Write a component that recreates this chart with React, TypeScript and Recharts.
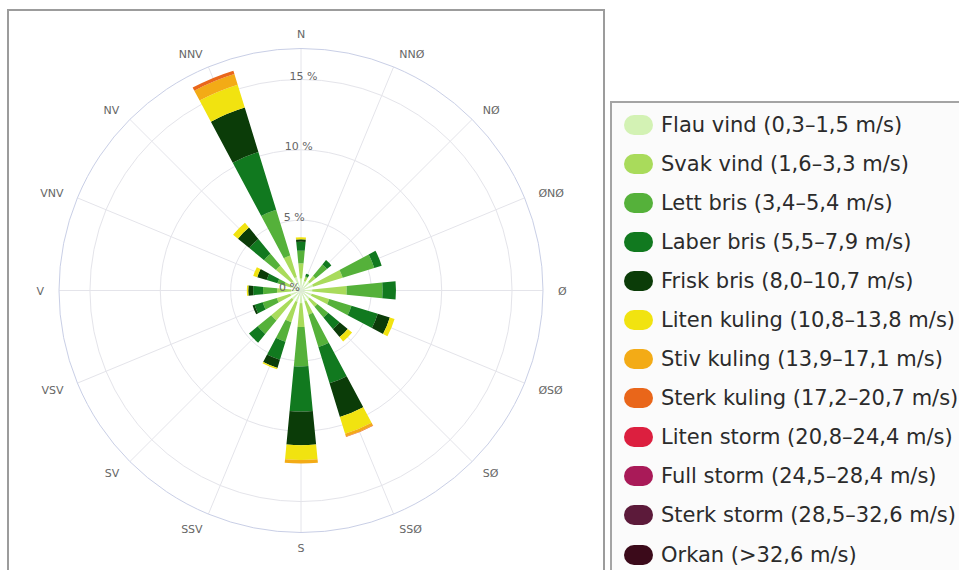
import React from 'react';
import { RadialBarChart, RadialBar, PolarGrid, PolarAngleAxis, PolarRadiusAxis } from 'recharts';

// Compass directions (clockwise from north)
const directions = ['N', 'NNØ', 'NØ', 'ØNØ', 'Ø', 'ØSØ', 'SØ', 'SSØ', 'S', 'SSV', 'SV', 'VSV', 'V', 'VNV', 'NV', 'NNV'];

// Frequency (%) per direction for each wind class
const flauVind = [0.85, 0.7, 0.8, 0.9, 0.8, 0.8, 0.8, 0.8, 0.9, 0.85, 0.85, 0.8, 0.7, 0.75, 0.85, 1.0];
const svakVind = [1.08, 0.3, 0.55, 2.2, 2.45, 1.3, 0.7, 1.0, 1.7, 1.5, 1.9, 1.0, 1.0, 0.5, 1.45, 1.6];
const lettBris = [0.9, 0.05, 1.05, 2.35, 2.55, 1.65, 1.0, 2.4, 2.8, 1.45, 1.25, 1.05, 1.0, 0.5, 1.1, 3.4];
const laberBris = [0.64, 0.2, 0.4, 0.55, 0.95, 1.95, 1.05, 2.7, 3.2, 1.35, 0.8, 0.6, 0.7, 0.8, 1.35, 4.3];
const friskBris = [0.17, 0, 0, 0, 0, 0.9, 0.75, 2.5, 2.4, 0.6, 0, 0.15, 0.35, 0.7, 1.05, 3.3];
const litenKuling = [0.14, 0, 0, 0, 0, 0.35, 0.4, 1.25, 1.05, 0.1, 0, 0, 0.1, 0.3, 0.45, 1.7];
const stivKuling = [0, 0, 0, 0, 0, 0, 0, 0.2, 0.25, 0, 0, 0, 0, 0, 0, 0.8];
const sterkKuling = [0, 0, 0, 0, 0, 0, 0, 0.05, 0, 0, 0, 0, 0, 0, 0, 0.25];
const litenStorm = [0, 0, 0, 0, 0, 0, 0, 0, 0, 0, 0, 0, 0, 0, 0, 0];
const fullStorm = [0, 0, 0, 0, 0, 0, 0, 0, 0, 0, 0, 0, 0, 0, 0, 0];
const sterkStorm = [0, 0, 0, 0, 0, 0, 0, 0, 0, 0, 0, 0, 0, 0, 0, 0];
const orkan = [0, 0, 0, 0, 0, 0, 0, 0, 0, 0, 0, 0, 0, 0, 0, 0];

const seriesNames = [
  'Flau vind (0,3–1,5 m/s)',
  'Svak vind (1,6–3,3 m/s)',
  'Lett bris (3,4–5,4 m/s)',
  'Laber bris (5,5–7,9 m/s)',
  'Frisk bris (8,0–10,7 m/s)',
  'Liten kuling (10,8–13,8 m/s)',
  'Stiv kuling (13,9–17,1 m/s)',
  'Sterk kuling (17,2–20,7 m/s)',
  'Liten storm (20,8–24,4 m/s)',
  'Full storm (24,5–28,4 m/s)',
  'Sterk storm (28,5–32,6 m/s)',
  'Orkan (>32,6 m/s)',
];
const seriesValues = [flauVind, svakVind, lettBris, laberBris, friskBris, litenKuling, stivKuling, sterkKuling, litenStorm, fullStorm, sterkStorm, orkan];
const seriesColors = ['#d3f2b4', '#a9db5b', '#55b13a', '#11791f', '#0b3c08', '#f1e310', '#f3ab16', '#e9661a', '#dc1f3f', '#a91a58', '#5c1a3a', '#3b0a1a'];

const radiusTicks = [0, 5, 10, 15];
const RADIUS_MAX = 17.2;

const data = directions.map((dir, i) => {
  const row: Record<string, number | string> = { dir, idx: i };
  seriesValues.forEach((vals, s) => {
    row['s' + s] = vals[i];
  });
  return row;
});

const CX = 301;
const CY = 290.5;
const OUTER = 242;
const FONT = '"DejaVu Sans", "Lucida Grande", sans-serif';

const AngleTick = (props: any) => {
  const { payload } = props;
  const label = directions[Math.round(payload.value)] ?? '';
  const rad = (-payload.coordinate * Math.PI) / 180;
  const c = Math.cos(rad);
  const s = Math.sin(rad);
  const r = OUTER + 15;
  let compass = (90 - payload.coordinate) % 360;
  if (compass < 0) compass += 360;
  const anchor = compass > 20 && compass < 160 ? 'start' : compass > 200 && compass < 340 ? 'end' : 'middle';
  return (
    <text x={CX + r * c} y={CY + r * s + 1.3} textAnchor={anchor} dominantBaseline="central" fill="#666666" fontSize={11} fontFamily={FONT}>
      {label}
    </text>
  );
};

const RadiusTick = (props: any) => {
  const { x, y, payload } = props;
  return (
    <text x={x - 11.5 + payload.value * 0.93} y={y - 3} textAnchor="middle" dominantBaseline="central" fill="#666666" fontSize={11} fontFamily={FONT}>
      {payload.value + ' %'}
    </text>
  );
};

export default function App() {
  return (
    <div style={{ position: 'fixed', left: 0, top: 0, width: 959, height: 570, overflow: 'hidden', background: '#ffffff' }}>
      <div style={{ position: 'absolute', left: 7, top: 9, width: 598, height: 620, border: '2px solid #9c9c9c', boxSizing: 'border-box' }} />
      <div style={{ position: 'absolute', left: 0, top: 0 }}>
        <RadialBarChart
          width={605}
          height={570}
          cx={CX}
          cy={CY}
          innerRadius={0}
          outerRadius={OUTER}
          data={data}
          layout="centric"
          startAngle={101.25}
          endAngle={-258.75}
          barCategoryGap="26%"
          margin={{ top: 0, right: 0, bottom: 0, left: 0 }}
        >
          <PolarGrid gridType="circle" stroke="#e4e4ea" />
          <PolarAngleAxis
            type="number"
            dataKey="idx"
            domain={[-0.5, directions.length - 0.5]}
            ticks={directions.map((_, i) => i)}
            axisLineType="circle"
            stroke="#c9cfe6"
            tickLine={false}
            tick={AngleTick}
          />
          <PolarRadiusAxis
            type="number"
            angle={90}
            domain={[0, RADIUS_MAX]}
            ticks={radiusTicks}
            axisLine={false}
            tickLine={false}
            tick={RadiusTick}
          />
          {seriesNames.map((name, s) => (
            <RadialBar key={name} name={name} dataKey={'s' + s} stackId="wind" fill={seriesColors[s]} isAnimationActive={false} />
          ))}
        </RadialBarChart>
      </div>
      <div
        style={{
          position: 'absolute',
          left: 610,
          top: 101,
          width: 420,
          height: 520,
          border: '2px solid #a4a4a4',
          boxSizing: 'border-box',
          background: '#fbfbfb',
          paddingTop: 2,
        }}
      >
        {seriesNames.map((name, s) => (
          <div key={name} style={{ height: 39.1, display: 'flex', alignItems: 'center' }}>
            <div style={{ marginLeft: 12, width: 29, height: 20, borderRadius: 10, background: seriesColors[s], flexShrink: 0 }} />
            <span style={{ marginLeft: 8, fontFamily: FONT, fontSize: 21, color: '#2b2b2b', whiteSpace: 'nowrap' }}>{name}</span>
          </div>
        ))}
      </div>
    </div>
  );
}
